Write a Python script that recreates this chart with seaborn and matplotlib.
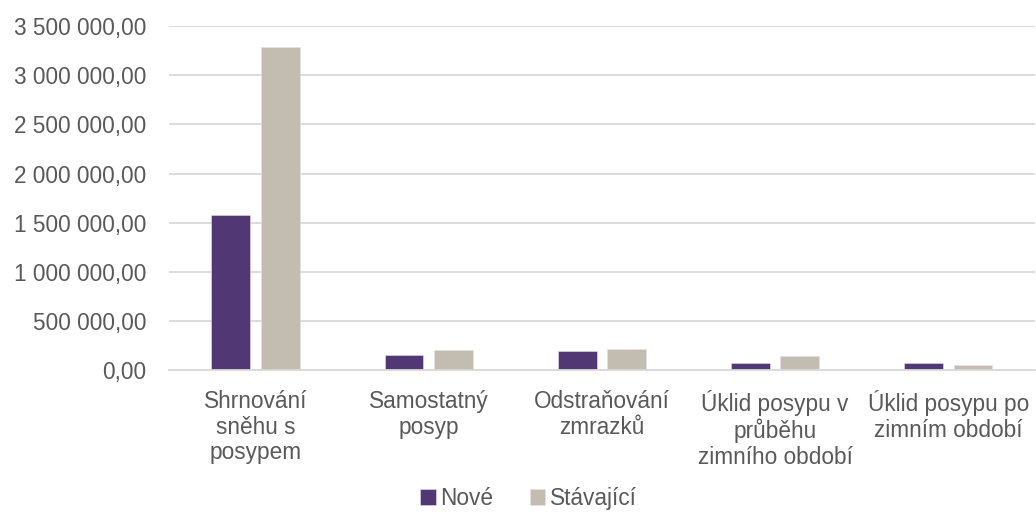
import matplotlib
matplotlib.use("Agg")
import matplotlib.pyplot as plt
from matplotlib.ticker import FuncFormatter, MultipleLocator
import seaborn as sns
import pandas as pd

categories = [
    "Shrnování\nsněhu s\nposypem",
    "Samostatný\nposyp",
    "Odstraňování\nzmrazků",
    "Úklid posypu v\nprůběhu\nzimního období",
    "Úklid posypu po\nzimním období",
]
series_names = ["Nové", "Stávající"]
nove = [1580000, 160000, 200000, 72000, 72000]
stavajici = [3288000, 205000, 214000, 146000, 60000]

colors = {"Nové": "#4F2E7E", "Stávající": "#C6BCAE"}
text_color = "#595959"
grid_color = "#D9D9D9"

df = pd.DataFrame({
    "kategorie": categories * 2,
    "řada": [series_names[0]] * len(categories) + [series_names[1]] * len(categories),
    "hodnota": nove + stavajici,
})

sns.set_theme(style="white")
plt.rcParams["font.family"] = ["Liberation Sans", "DejaVu Sans"]

fig = plt.figure(figsize=(10.36, 5.12), dpi=100)
ax = fig.add_axes([0.163, 0.2764, 0.836, 0.6729])

sns.barplot(
    data=df, x="kategorie", y="hodnota", hue="řada",
    palette=colors, width=0.57, gap=0.214, ax=ax,
    edgecolor="#E6E0EE", linewidth=0.4, legend=True,
)

ax.set_xlim(-0.5, len(categories) - 0.5)
ax.set_ylim(0, 3500000)
ax.yaxis.set_major_locator(MultipleLocator(500000))


def fmt(v, _pos):
    s = f"{v:,.2f}"
    return s.replace(",", " ").replace(".", ",")


ax.yaxis.set_major_formatter(FuncFormatter(fmt))
ax.grid(axis="y", color=grid_color, linewidth=1.3)
ax.set_axisbelow(True)
for side in ["top", "right", "left"]:
    ax.spines[side].set_visible(False)
ax.spines["bottom"].set_color(grid_color)
ax.spines["bottom"].set_linewidth(1.3)

ax.set_xlabel("")
ax.set_ylabel("")
ax.tick_params(axis="both", length=0, labelsize=16.3, labelcolor=text_color)
ax.tick_params(axis="y", pad=16)
ax.tick_params(axis="x", pad=14)
for lbl in ax.get_xticklabels():
    lbl.set_linespacing(1.15)

ax.get_legend().remove()
handles, labels = ax.get_legend_handles_labels()
fig.legend(
    handles, labels, loc="lower center", bbox_to_anchor=(0.51, -0.035),
    ncol=2, frameon=False, fontsize=16.3, labelcolor=text_color,
    handlelength=0.7, handleheight=0.7, handletextpad=0.2, columnspacing=1.6,
)

fig.savefig("out.png", dpi=100)
